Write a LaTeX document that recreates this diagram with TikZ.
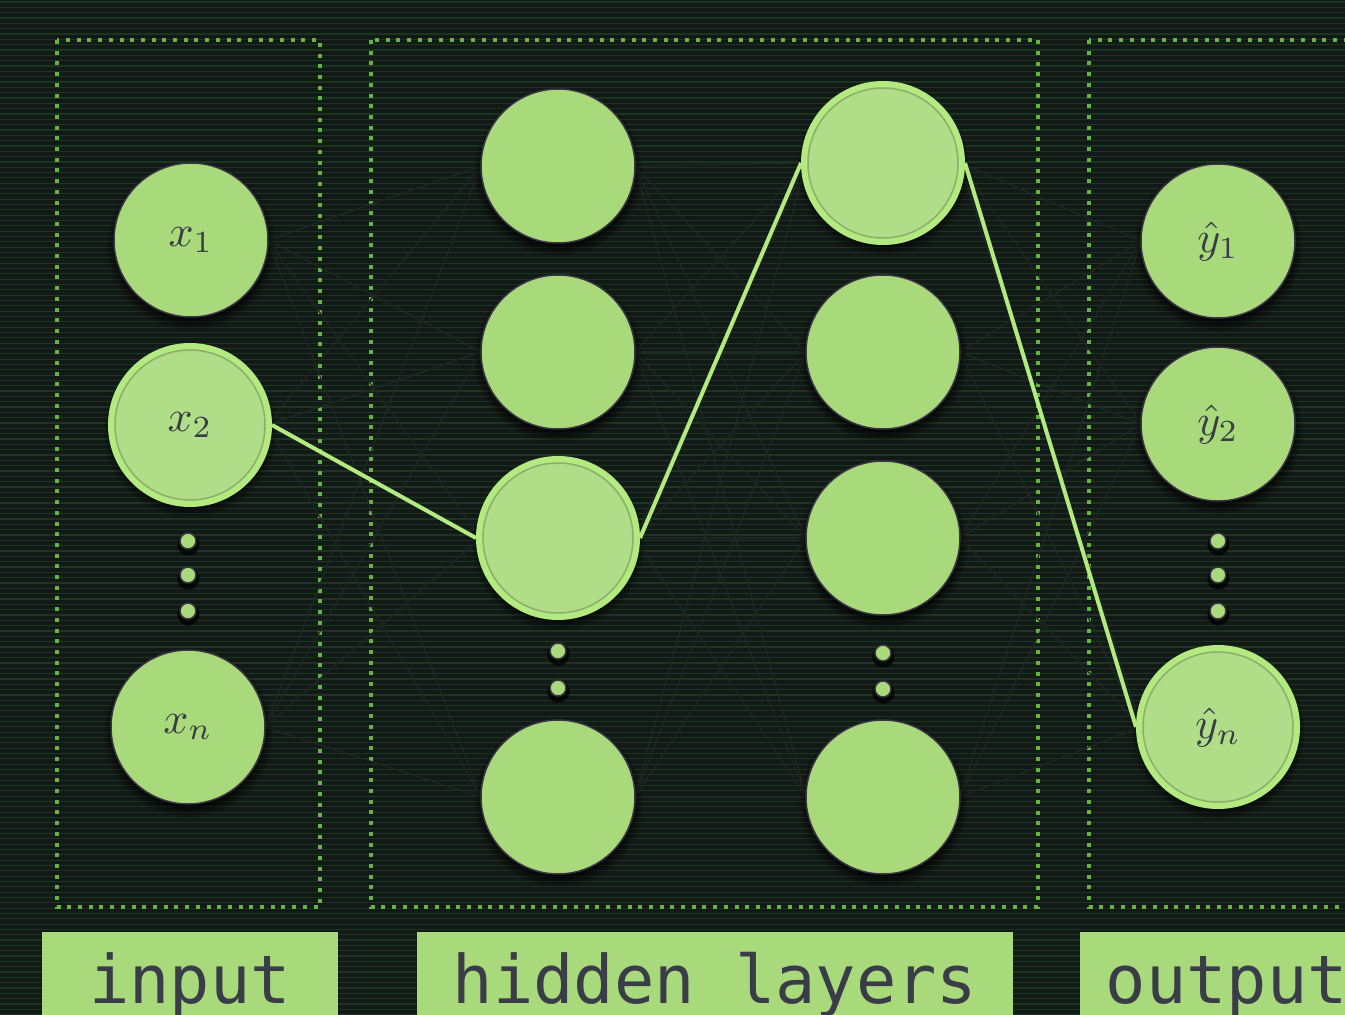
\documentclass[tikz,border=0pt]{standalone}
\usepackage{graphicx}
\usepackage{fontspec}
\setmonofont{DejaVu Sans Mono}
\usetikzlibrary{shadows}
\newcommand{\mlab}[1]{\scalebox{4.4}{$#1$}}
\definecolor{bgc}{HTML}{131917}
\definecolor{scanc}{HTML}{1C3520}
\definecolor{nodefill}{HTML}{A8D97A}
\definecolor{nodeedge}{HTML}{3A3342}
\definecolor{txtc}{HTML}{3A3C48}
\definecolor{dotgreen}{HTML}{62B63E}
\definecolor{hlgreen}{HTML}{B2EA80}
\definecolor{hlin}{HTML}{B0DE88}
\definecolor{hlmid}{HTML}{A8C878}
\definecolor{hlout}{HTML}{9C9862}
\definecolor{hlgap}{HTML}{5E6A44}
\definecolor{faint}{HTML}{1F2723}
\pgfdeclareradialshading{hlshade}{\pgfpoint{0bp}{0bp}}{color(0bp)=(hlin); color(22bp)=(hlin); color(38bp)=(hlmid); color(47bp)=(hlout); color(50bp)=(hlout)}
\tikzset{
  neuron/.style={circle, fill=nodefill, draw=nodeedge, line width=1.5pt, minimum size=154pt, inner sep=0pt,
    text=txtc,
    circular drop shadow={shadow xshift=0pt, shadow yshift=-5pt, shadow scale=1.1, opacity=0.75, fill=black}},
  hlneuron/.style={circle, shading=hlshade, draw=hlgreen, line width=6pt, minimum size=158pt, inner sep=0pt,
    text=txtc,
    circular drop shadow={shadow xshift=0pt, shadow yshift=-5pt, shadow scale=1.1, opacity=0.75, fill=black}},
  hlgapring/.style={draw=hlgap, line width=1.5pt, opacity=0.4},
  mtext/.style={text=txtc, inner sep=0pt},
  vdot/.style={circle, fill=nodefill, draw=nodeedge, line width=1.5pt, minimum size=16pt, inner sep=0pt,
    circular drop shadow={shadow xshift=0pt, shadow yshift=-2pt, shadow scale=1.5, opacity=0.75, fill=black}},
  layerbox/.style={draw=dotgreen, line width=4pt, dash pattern=on 4pt off 6.7pt},
  labelbox/.style={fill=nodefill, inner sep=0pt, minimum height=142pt, text height=0pt, text depth=0pt,
    anchor=north, text=txtc, font=\ttfamily\fontsize{67}{70}\selectfont},
  faintlink/.style={draw=faint, line width=1.3pt},
  hllink/.style={draw=hlgreen, line width=4pt},
  scan/.style={draw=scanc, line width=1.2pt}
}
\begin{document}
\begin{tikzpicture}[x=1pt, y=-1pt]
\fill[bgc] (0,0) rectangle (1345,1015);
\useasboundingbox (0,0) rectangle (1345,1015);
\clip (0,0) rectangle (1345,1015);
\foreach \i in {0,...,191} \draw[scan] (0,\i*5.33+2) -- (1345,\i*5.33+2);

% layer boxes
\draw[layerbox] (57,40) rectangle (320,907);
\draw[layerbox] (371,40) rectangle (1038,907);
\draw[layerbox] (1089,40) rectangle (1400,907);

% coordinates for neurons
\coordinate (pi1) at (191,240);
\coordinate (pi2) at (190,425);
\coordinate (pi3) at (188,727);
\coordinate (pa1) at (558,166);
\coordinate (pa2) at (558,352);
\coordinate (pa3) at (558,538);
\coordinate (pa4) at (558,797);
\coordinate (pb1) at (883,163);
\coordinate (pb2) at (883,352);
\coordinate (pb3) at (883,538);
\coordinate (pb4) at (883,797);
\coordinate (po1) at (1218,241);
\coordinate (po2) at (1218,424);
\coordinate (po3) at (1218,727);

% faint all-to-all links (drawn first, under the neurons)
\foreach \s in {1,2,3} \foreach \t in {1,2,3,4} \draw[faintlink] ([xshift=77pt]pi\s) -- ([xshift=-77pt]pa\t);
\foreach \s in {1,2,3,4} \foreach \t in {1,2,3,4} \draw[faintlink] ([xshift=77pt]pa\s) -- ([xshift=-77pt]pb\t);
\foreach \s in {1,2,3,4} \foreach \t in {1,2,3} \draw[faintlink] ([xshift=77pt]pb\s) -- ([xshift=-77pt]po\t);

% input layer
\node[neuron] (x1) at (pi1) {\mlab{x_1}};
\node[hlneuron] (x2) at (pi2) {};
\draw[hlgapring] (x2.center) circle[radius=75pt];
\node[mtext] (x2t) at (x2.center) {\mlab{x_2}};
\node[neuron] (xn) at (pi3) {\mlab{x_n}};
\node[vdot] (id1) at (188,541) {};
\node[vdot] (id2) at (188,575) {};
\node[vdot] (id3) at (188,611) {};

% hidden layer 1
\node[neuron] (a1) at (pa1) {};
\node[neuron] (a2) at (pa2) {};
\node[hlneuron] (a3) at (pa3) {};
\draw[hlgapring] (a3.center) circle[radius=75pt];
\node[neuron] (a4) at (pa4) {};
\node[vdot] (ad1) at (558,651) {};
\node[vdot] (ad2) at (558,688) {};

% hidden layer 2
\node[hlneuron] (b1) at (pb1) {};
\draw[hlgapring] (b1.center) circle[radius=75pt];
\node[neuron] (b2) at (pb2) {};
\node[neuron] (b3) at (pb3) {};
\node[neuron] (b4) at (pb4) {};
\node[vdot] (bd1) at (883,653) {};
\node[vdot] (bd2) at (883,689) {};

% output layer
\node[neuron] (y1) at (po1) {\mlab{\hat{y}_1}};
\node[neuron] (y2) at (po2) {\mlab{\hat{y}_2}};
\node[hlneuron] (yn) at (po3) {};
\draw[hlgapring] (yn.center) circle[radius=75pt];
\node[mtext] (ynt) at (yn.center) {\mlab{\hat{y}_n}};
\node[vdot] (od1) at (1218,541) {};
\node[vdot] (od2) at (1218,575) {};
\node[vdot] (od3) at (1218,611) {};

% highlighted path
\draw[hllink] (x2.east) -- (a3.west);
\draw[hllink] (a3.east) -- (b1.west);
\draw[hllink] (b1.east) -- (yn.west);

% labels
\node[labelbox, minimum width=296pt] (linput) at (190,932) {input};
\node[labelbox, minimum width=596pt] (lhidden) at (715,932) {hidden layers};
\node[labelbox, minimum width=294pt] (loutput) at (1227,932) {output};
\end{tikzpicture}
\end{document}
